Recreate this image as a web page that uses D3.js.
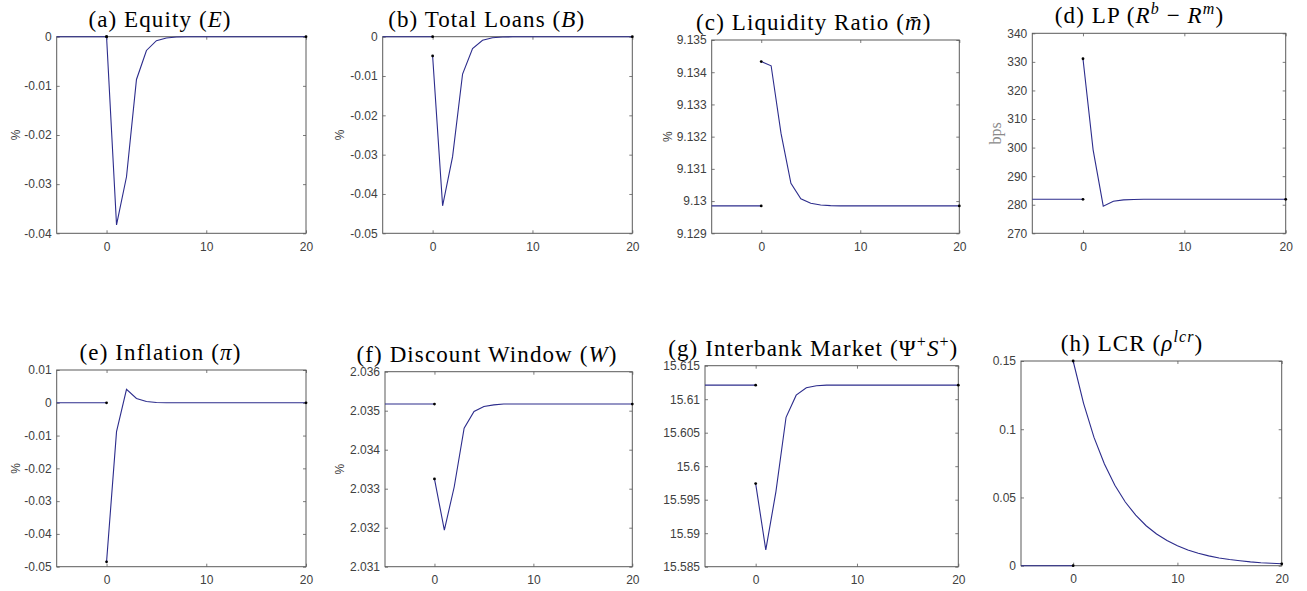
<!DOCTYPE html>
<html>
<head>
<meta charset="utf-8">
<script src="https://cdn.jsdelivr.net/npm/d3@7"></script>
<style>
  html, body { margin: 0; padding: 0; background: #fff; }
  svg { display: block; }
</style>
</head>
<body>
<svg id="chart" width="1307" height="591"></svg>
<script>
// ---------------- DATA ----------------
const preX = [-5, 0];
const periods = [0,1,2,3,4,5,6,7,8,9,10,11,12,13,14,15,16,17,18,19,20];
const xTicks = [0, 10, 20];
const xTickLabels = ["0", "10", "20"];

// (a) Equity
const equitySteady = 0;
const equityResp = [0, -0.0383, -0.0285, -0.0087, -0.0028, -0.0008, -0.00025, -0.00007, -0.00002, 0, 0, 0, 0, 0, 0, 0, 0, 0, 0, 0, 0];
const equityTicks = [0, -0.01, -0.02, -0.03, -0.04];
const equityTickLabels = ["0", "-0.01", "-0.02", "-0.03", "-0.04"];

// (b) Total Loans
const loansSteady = 0;
const loansResp = [-0.0049, -0.0430, -0.0305, -0.0095, -0.0030, -0.0009, -0.00025, -0.00007, -0.00002, 0, 0, 0, 0, 0, 0, 0, 0, 0, 0, 0, 0];
const loansTicks = [0, -0.01, -0.02, -0.03, -0.04, -0.05];
const loansTickLabels = ["0", "-0.01", "-0.02", "-0.03", "-0.04", "-0.05"];

// (c) Liquidity Ratio
const liqSteady = 9.12985;
const liqResp = [9.13433, 9.13420, 9.13210, 9.13055, 9.13007, 9.12993, 9.12988, 9.12986, 9.12985, 9.12985, 9.12985, 9.12985, 9.12985, 9.12985, 9.12985, 9.12985, 9.12985, 9.12985, 9.12985, 9.12985, 9.12985];
const liqTicks = [9.135, 9.134, 9.133, 9.132, 9.131, 9.13, 9.129];
const liqTickLabels = ["9.135", "9.134", "9.133", "9.132", "9.131", "9.13", "9.129"];

// (d) LP
const lpSteady = 281.9;
const lpResp = [331.1, 299.2, 279.5, 281.2, 281.7, 281.85, 281.9, 281.9, 281.9, 281.9, 281.9, 281.9, 281.9, 281.9, 281.9, 281.9, 281.9, 281.9, 281.9, 281.9, 281.9];
const lpTicks = [340, 330, 320, 310, 300, 290, 280, 270];
const lpTickLabels = ["340", "330", "320", "310", "300", "290", "280", "270"];

// (e) Inflation
const inflSteady = 0;
const inflResp = [-0.0485, -0.0088, 0.0041, 0.0013, 0.0004, 0.0001, 0.00003, 0, 0, 0, 0, 0, 0, 0, 0, 0, 0, 0, 0, 0, 0];
const inflTicks = [0.01, 0, -0.01, -0.02, -0.03, -0.04, -0.05];
const inflTickLabels = ["0.01", "0", "-0.01", "-0.02", "-0.03", "-0.04", "-0.05"];

// (f) Discount Window
const dwSteady = 2.03517;
const dwResp = [2.03325, 2.03194, 2.03305, 2.03455, 2.03498, 2.03511, 2.03515, 2.03517, 2.03517, 2.03517, 2.03517, 2.03517, 2.03517, 2.03517, 2.03517, 2.03517, 2.03517, 2.03517, 2.03517, 2.03517, 2.03517];
const dwTicks = [2.036, 2.035, 2.034, 2.033, 2.032, 2.031];
const dwTickLabels = ["2.036", "2.035", "2.034", "2.033", "2.032", "2.031"];

// (g) Interbank Market
const ibSteady = 15.6121;
const ibResp = [15.5974, 15.5875, 15.5962, 15.6073, 15.6106, 15.6117, 15.6120, 15.6121, 15.6121, 15.6121, 15.6121, 15.6121, 15.6121, 15.6121, 15.6121, 15.6121, 15.6121, 15.6121, 15.6121, 15.6121, 15.6121];
const ibTicks = [15.615, 15.61, 15.605, 15.6, 15.595, 15.59, 15.585];
const ibTickLabels = ["15.615", "15.61", "15.605", "15.6", "15.595", "15.59", "15.585"];

// (h) LCR
const lcrSteady = 0;
const lcrResp = [0.15, 0.119, 0.094, 0.0745, 0.059, 0.0467, 0.037, 0.0293, 0.0232, 0.0184, 0.0146, 0.0115, 0.0091, 0.0072, 0.0057, 0.0045, 0.0036, 0.0028, 0.0022, 0.0018, 0.0014];
const lcrTicks = [0.15, 0.1, 0.05, 0];
const lcrTickLabels = ["0.15", "0.1", "0.05", "0"];

// Titles (text pieces with math styling)
const titleA = [["(a) Equity ("], ["E", "i"], [")"]];
const titleB = [["(b) Total Loans ("], ["B", "i"], [")"]];
const titleC = [["(c) Liquidity Ratio ("], ["m\u0304", "i"], [")"]];
const titleD = [["(d) LP ("], ["R", "i"], ["b", "supi"], [" \u2212 "], ["R", "i"], ["m", "supi"], [")"]];
const titleE = [["(e) Inflation ("], ["\u03c0", "i"], [")"]];
const titleF = [["(f) Discount Window ("], ["W", "i"], [")"]];
const titleG = [["(g) Interbank Market (\u03a8"], ["+", "sup"], ["S", "i"], ["+", "sup"], [")"]];
const titleH = [["(h) LCR ("], ["\u03c1", "i"], ["lcr", "supi"], [")"]];

// ---------------- LAYOUT ----------------
const panels = [
  { title: titleA, steady: equitySteady, resp: equityResp, ticks: equityTicks, labels: equityTickLabels, ylab: "%",
    box: [56.7, 36.7, 306, 233.3], tx: 160, ylx: 15.5, ylabSerif: false },
  { title: titleB, steady: loansSteady, resp: loansResp, ticks: loansTicks, labels: loansTickLabels, ylab: "%",
    box: [382.7, 36.7, 632.3, 233.3], tx: 486.7, ylx: 340, ylabSerif: false },
  { title: titleC, steady: liqSteady, resp: liqResp, ticks: liqTicks, labels: liqTickLabels, ylab: "%",
    box: [711.7, 40, 959.3, 233.3], tx: 813.8, ylx: 668, ylabSerif: false },
  { title: titleD, steady: lpSteady, resp: lpResp, ticks: lpTicks, labels: lpTickLabels, ylab: "bps",
    box: [1032.3, 33.3, 1285.7, 233.3], tx: 1139.5, ylx: 995, ylabSerif: true },
  { title: titleE, steady: inflSteady, resp: inflResp, ticks: inflTicks, labels: inflTickLabels, ylab: "%",
    box: [56.7, 370, 306, 566.7], tx: 160.5, ylx: 15.5, ylabSerif: false },
  { title: titleF, steady: dwSteady, resp: dwResp, ticks: dwTicks, labels: dwTickLabels, ylab: "%",
    box: [385, 371.7, 632.3, 566.7], tx: 487, ylx: 340, ylabSerif: false },
  { title: titleG, steady: ibSteady, resp: ibResp, ticks: ibTicks, labels: ibTickLabels, ylab: "",
    box: [705, 365.7, 958.3, 566.7], tx: 813.3, ylx: 668, ylabSerif: false },
  { title: titleH, steady: lcrSteady, resp: lcrResp, ticks: lcrTicks, labels: lcrTickLabels, ylab: "",
    box: [1021, 361, 1281.7, 565.7], tx: 1132, ylx: 985, ylabSerif: false }
];

const svg = d3.select("#chart");
const axisColor = "#5a5a5a";
const textColor = "#404040";
const lineColor = "#2c2c8c";
const sansFont = "'Liberation Sans', Arial, sans-serif";
const serifFont = "'Liberation Serif', 'Times New Roman', serif";

panels.forEach(p => {
  const [l, t, r, b] = p.box;
  const x = d3.scaleLinear().domain([-5, 20]).range([l, r]);
  const y = d3.scaleLinear().domain([d3.min(p.ticks), d3.max(p.ticks)]).range([b, t]);
  const g = svg.append("g");

  const fmtY = (d) => p.labels[p.ticks.indexOf(d)];
  const fmtX = (d) => xTickLabels[xTicks.indexOf(d)];

  const axL = g.append("g").attr("transform", `translate(${l},0)`)
    .call(d3.axisLeft(y).tickValues(p.ticks).tickSize(-3).tickPadding(5).tickFormat(fmtY));
  const axR = g.append("g").attr("transform", `translate(${r},0)`)
    .call(d3.axisRight(y).tickValues(p.ticks).tickSize(-3).tickFormat(""));
  const axB = g.append("g").attr("transform", `translate(0,${b})`)
    .call(d3.axisBottom(x).tickValues(xTicks).tickSize(-3).tickPadding(9).tickFormat(fmtX));
  const axT = g.append("g").attr("transform", `translate(0,${t})`)
    .call(d3.axisTop(x).tickValues(xTicks).tickSize(-3).tickFormat(""));
  [axL, axR, axB, axT].forEach(a => {
    a.select(".domain").remove();
    a.selectAll(".tick line").attr("stroke", axisColor).attr("stroke-width", 0.8);
    a.selectAll(".tick text").attr("fill", textColor).style("font-family", sansFont).style("font-size", "12px");
  });

  g.append("rect")
    .attr("x", l).attr("y", t).attr("width", r - l).attr("height", b - t)
    .attr("fill", "none").attr("stroke", axisColor).attr("stroke-width", 1);

  // lines
  const line = d3.line().x(d => x(d[0])).y(d => y(d[1]));
  const preData = preX.map(v => [v, p.steady]);
  const respData = periods.map((v, i) => [v, p.resp[i]]);
  g.append("path").datum(preData).attr("d", line)
    .attr("fill", "none").attr("stroke", lineColor).attr("stroke-width", 1.1);
  g.append("path").datum(respData).attr("d", line)
    .attr("fill", "none").attr("stroke", lineColor).attr("stroke-width", 1.1);

  // endpoint dots
  const dots = [preData[preData.length - 1], respData[0], respData[respData.length - 1]];
  g.selectAll("circle.dot").data(dots).join("circle")
    .attr("class", "dot")
    .attr("cx", d => x(d[0])).attr("cy", d => y(d[1])).attr("r", 1.4)
    .attr("fill", "#000");

  // title
  const title = g.append("text")
    .attr("x", p.tx).attr("y", t - 10)
    .attr("text-anchor", "middle")
    .style("font-family", serifFont).style("font-size", "23px")
    .style("letter-spacing", "1.1px")
    .attr("fill", "#000");
  let shift = 0;
  p.title.forEach(([txt, st]) => {
    const isSup = st === "sup" || st === "supi";
    const target = isSup ? -9 : 0;
    const ts = title.append("tspan").text(txt).attr("dy", target - shift);
    shift = target;
    if (st === "i" || st === "supi") ts.style("font-style", "italic");
    if (isSup) ts.style("font-size", "16px");
  });

  // y label
  if (p.ylab) {
    const cy = (t + b) / 2;
    g.append("text")
      .attr("transform", `translate(${p.ylx},${cy}) rotate(-90)`)
      .attr("text-anchor", "middle")
      .attr("dy", "0.35em")
      .attr("fill", p.ylabSerif ? "#8a8a8a" : textColor)
      .style("font-family", p.ylabSerif ? serifFont : sansFont)
      .style("font-size", p.ylabSerif ? "16px" : "12px")
      .text(p.ylab);
  }
});
</script>
</body>
</html>
